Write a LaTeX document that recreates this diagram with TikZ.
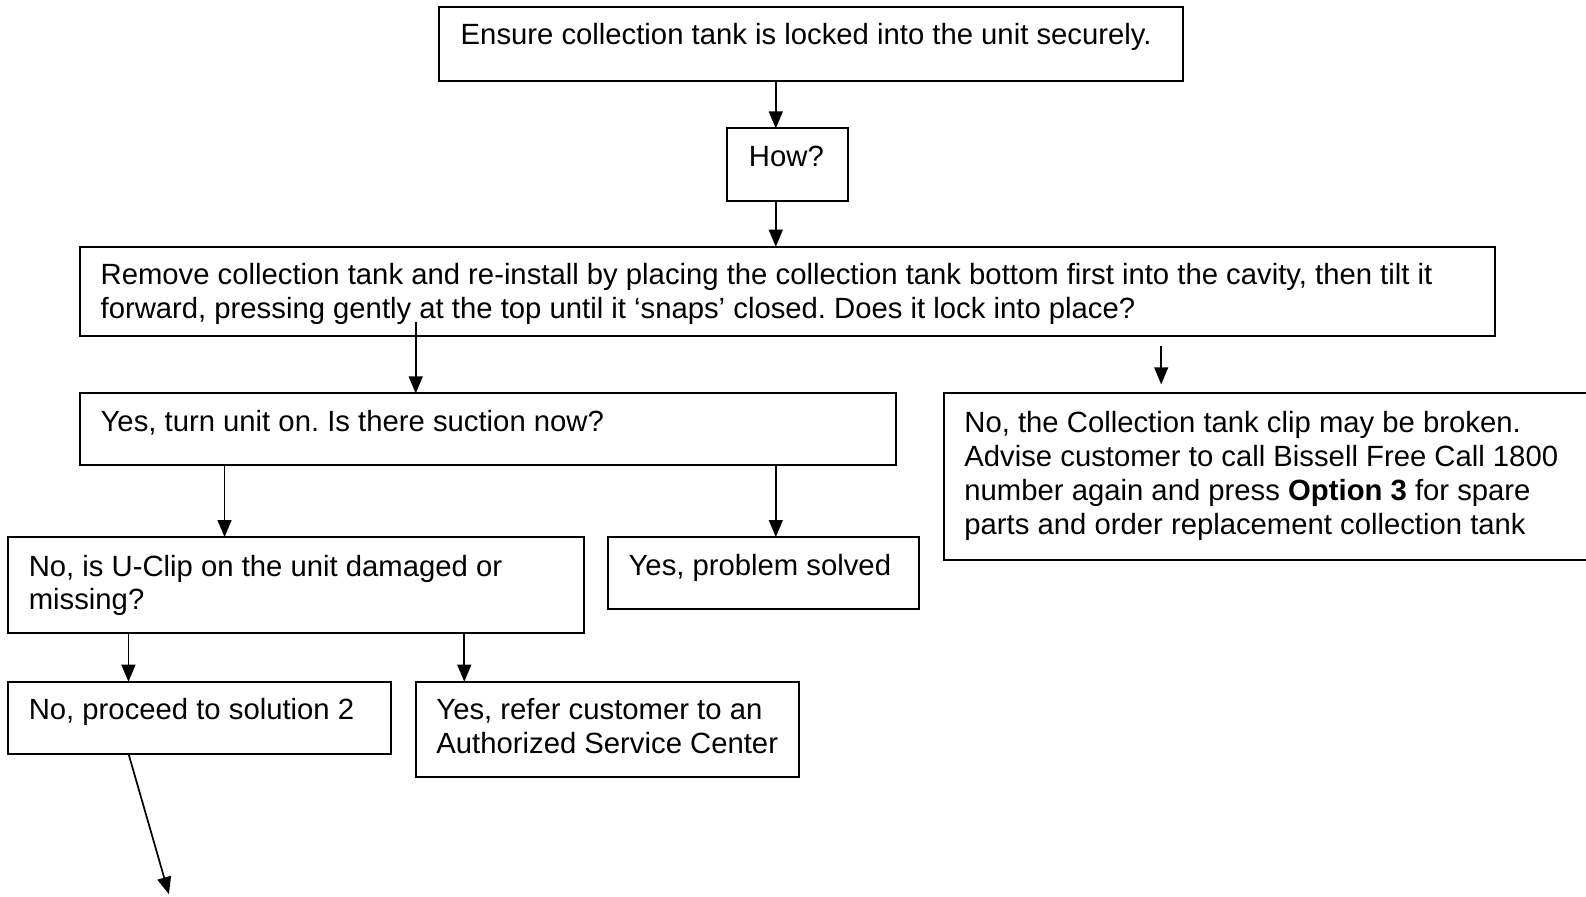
\documentclass[tikz,border=0pt]{standalone}
\usepackage{fontspec}
\setmainfont{Liberation Sans}
\usetikzlibrary{arrows.meta,calc,fit}
\begin{document}
\frenchspacing
\begin{tikzpicture}[x=0.4147pt,y=-0.4147pt,
  box/.style={draw,line width=0.8pt,inner sep=0pt,outer sep=0pt},
  txt/.style={anchor=base west,inner sep=0pt,align=left,font=\fontsize{12}{13.9}\selectfont},
  arr/.style={line width=0.7pt,-{Triangle[length=7pt,width=5.7pt]}}]
\clip (0,0) rectangle (1568,886);
% boxes
\node[box,fit={(434,7) (1170,80)}] (top) {};
\node[box,fit={(719,127) (838,199)}] (how) {};
\node[box,fit={(79,244) (1478,332)}] (remove) {};
\node[box,fit={(79,389) (886,460)}] (yesturn) {};
\node[box,fit={(933,389) (1580,554)}] (nocoll) {};
\node[box,fit={(8,531) (577,626)}] (uclip) {};
\node[box,fit={(601,531) (909,602)}] (solved) {};
\node[box,fit={(8,674) (387,745)}] (proceed) {};
\node[box,fit={(411,674) (790,768)}] (refer) {};
% texts (anchor = baseline of the last line)
\node[txt] (ttop) at (455,44) {Ensure collection tank is locked into the unit securely.};
\node[txt] (thow) at (740,165) {How?};
\node[txt] (tremove) at (99,315) {Remove collection tank and re-install by placing the collection tank bottom first into the cavity, then tilt it\\forward, pressing gently at the top until it ‘snaps’ closed. Does it lock into place?};
\node[txt] (tyesturn) at (99,427) {Yes, turn unit on. Is there suction now?};
\node[txt] (tnocoll) at (953,528) {No, the Collection tank clip may be broken.\\Advise customer to call Bissell Free Call 1800\\number again and press \textbf{Option 3} for spare\\parts and order replacement collection tank};
\node[txt] (tuclip) at (28,603) {No, is U-Clip on the unit damaged or\\missing?};
\node[txt] (tsolved) at (621,569) {Yes, problem solved};
\node[txt] (tproceed) at (28,711) {No, proceed to solution 2};
\node[txt] (trefer) at (431,745) {Yes, refer customer to an\\Authorized Service Center};
% x positions
\coordinate (c767) at (767,0);
\coordinate (c411) at (411,0);
\coordinate (c1148) at (1148,0);
\coordinate (c222) at (222,0);
\coordinate (c127) at (127,0);
\coordinate (c459) at (459,0);
% connectors
\draw[arr] (c767 |- top.south) -- (c767 |- how.north);
\draw[arr] (c767 |- how.south) -- (c767 |- remove.north);
\coordinate (s1) at ($(c411 |- remove.south)+(0,-14)$);
\draw[arr] (s1) -- (c411 |- yesturn.north);
\coordinate (s2) at ($(c1148 |- remove.south)+(0,10)$);
\coordinate (e2) at ($(c1148 |- nocoll.north)+(0,-9)$);
\draw[arr] (s2) -- (e2);
\draw[arr] (c222 |- yesturn.south) -- (c222 |- uclip.north);
\draw[arr] (c767 |- yesturn.south) -- (c767 |- solved.north);
\draw[arr] (c127 |- uclip.south) -- (c127 |- proceed.north);
\draw[arr] (c459 |- uclip.south) -- (c459 |- refer.north);
\coordinate (e3) at (167,884);
\draw[arr] (c127 |- proceed.south) -- (e3);
\end{tikzpicture}
\end{document}
